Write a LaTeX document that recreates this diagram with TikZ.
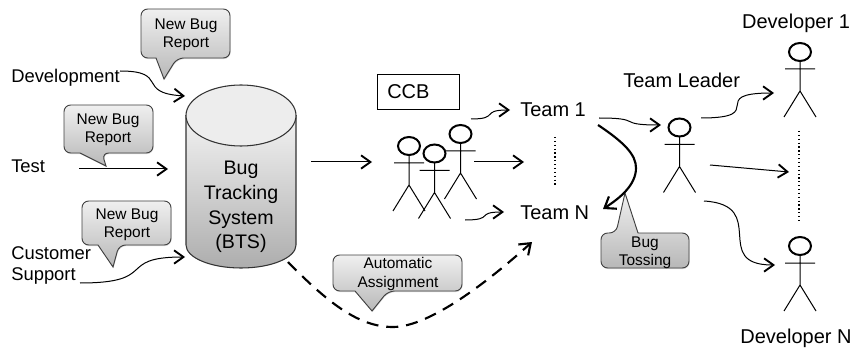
\documentclass[tikz,border=0pt]{standalone}
\usepackage{fontspec}
\setmainfont{Liberation Sans}
\usetikzlibrary{arrows.meta,shadows}
\tikzset{
	flow/.style={->,line width=0.75pt,>={Straight Barb[length=7pt,width=10pt,line width=1.4pt]}},
	bold flow/.style={flow,line width=1.6pt,>={Straight Barb[length=7.5pt,width=11pt,line width=1.6pt]}},
	note/.style={draw=black!75,line width=0.7pt,rounded corners=5pt,top color=black!6,bottom color=black!28,drop shadow={shadow xshift=0.4pt,shadow yshift=-0.8pt,opacity=0.3}},
	note text/.style={inner sep=0pt,align=center,font=\fontsize{11.6}{13.5}\selectfont},
	tag/.style={inner sep=0pt,anchor=west,align=left,font=\fontsize{13.8}{16}\selectfont},
	big tag/.style={inner sep=0pt,anchor=west,font=\fontsize{15}{17}\selectfont},
	pics/stickman/.style={code={
		\draw[line width=1.5pt] (0,0) ellipse (11 and 9);
		\draw[line width=0.75pt] (0,9) -- (0,39) (-15,17) -- (15,17) (-16,65) -- (0,39) -- (16,65);
	}}
}
\begin{document}
\begin{tikzpicture}[x=0.75pt,y=-0.75pt]
	\useasboundingbox (0,0) rectangle (853,349);
	% the database
	\shade[draw=black!80,line width=0.8pt,top color=black!5,bottom color=black!32] (186,115.5) -- (186,245) arc[start angle=180,end angle=0,x radius=55,y radius=23] -- (296,115.5) -- cycle;
	\draw[draw=black!80,line width=0.8pt,fill=black!7] (241,115.5) ellipse (55 and 30.5);
	\node[inner sep=0pt,align=center,font=\fontsize{14.7}{18.6}\selectfont] (BTS) at (241,207) {Bug\\Tracking\\System\\(BTS)};
	% the callouts
	\path[note] (141,34) -- (141,9) -- (230,9) -- (230,58) -- (177,58) [sharp corners] -- (164,79) -- (156,58) [rounded corners=5pt] -- (141,58) -- cycle;
	\path[note] (64,130) -- (64,105) -- (153,105) -- (153,153) -- (102,153) [sharp corners] -- (106,166) -- (80,153) [rounded corners=5pt] -- (64,153) -- cycle;
	\path[note] (82,223) -- (82,201) -- (171,201) -- (171,245) -- (119,245) [sharp corners] -- (113,267) -- (98,245) [rounded corners=5pt] -- (82,245) -- cycle;
	\path[note] (333,273) -- (333,255) -- (462,255) -- (462,291) -- (388,291) [sharp corners] -- (372,311) -- (355,291) [rounded corners=5pt] -- (333,291) -- cycle;
	\path[note] (601,250) -- (601,233) -- (616,233) [sharp corners] -- (625,193) -- (638,233) [rounded corners=5pt] -- (689,233) -- (689,268) -- (601,268) -- cycle;
	\node[note text] (NoteDev) at (186,35) {New Bug\\Report};
	\node[note text] (NoteTest) at (108,130) {New Bug\\Report};
	\node[note text] (NoteCust) at (127,224.5) {New Bug\\Report};
	\node[note text] (NoteAuto) at (398,274) {Automatic\\Assignment};
	\node[note text] (NoteToss) at (645,252.5) {Bug\\Tossing};
	% the labels
	\node[tag] (Dev) at (11,78) {Development};
	\node[tag] (Test) at (11,166) {Test};
	\node[tag] (Cust) at (11,265.5) {Customer\\Support};
	\node[draw,line width=0.6pt,minimum width=61.5pt,minimum height=26.25pt,inner sep=0pt] (CCBbox) at (418,91.5) {};
	\node[inner sep=0pt,anchor=west,font=\fontsize{15}{17}\selectfont] (CCB) at (387,92) {CCB};
	\node[big tag] (TeamA) at (520,110) {Team 1};
	\node[big tag] (TeamN) at (520,213) {Team N};
	\node[big tag] (Leader) at (623,80) {Team Leader};
	\node[inner sep=0pt,font=\fontsize{15}{17}\selectfont] (DevA) at (796,23) {Developer 1};
	\node[inner sep=0pt,font=\fontsize{15}{17}\selectfont] (DevN) at (796,338) {Developer N};
	% the people
	\pic at (409,146) {stickman};
	\pic at (434.5,153.5) {stickman};
	\pic at (460.5,134) {stickman};
	\pic at (679.5,127.5) {stickman};
	\pic at (800,52) {stickman};
	\pic at (800,246) {stickman};
	% ends of the connectors
	\coordinate (a1) at (120,71);
	\coordinate (a2) at (185,96);
	\coordinate (b1) at (79,169);
	\coordinate (b2) at (168,169);
	\coordinate (c1) at (80,283);
	\coordinate (c2) at (185,257);
	\coordinate (d1) at (311,162);
	\coordinate (d2) at (372,162);
	\coordinate (e1) at (474,162);
	\coordinate (e2) at (524,162);
	\coordinate (f1) at (471,119);
	\coordinate (f2) at (510,110);
	\coordinate (g1) at (465,220);
	\coordinate (g2) at (504,212);
	\coordinate (h1) at (288,262);
	\coordinate (h2) at (393,327);
	\coordinate (h3) at (532,242);
	\coordinate (i1) at (598,125);
	\coordinate (i2) at (636,168);
	\coordinate (i3) at (603,209);
	\coordinate (j1) at (599,118);
	\coordinate (j2) at (661,125);
	\coordinate (k1) at (701,118);
	\coordinate (k2) at (774,93);
	\coordinate (l1) at (710,165);
	\coordinate (l2) at (789,172);
	\coordinate (m1) at (704,201);
	\coordinate (m2) at (775,265);
	% the connectors
	\draw[flow] (a1) .. controls (170,71) and (135,93) .. (a2);
	\draw[flow] (b1) -- (b2);
	\draw[flow] (c1) .. controls (160,283) and (115,257) .. (c2);
	\draw[flow] (d1) -- (d2);
	\draw[flow] (e1) -- (e2);
	\draw[flow] (f1) .. controls (500,119) and (480,110) .. (f2);
	\draw[flow] (g1) .. controls (495,220) and (475,212) .. (g2);
	\draw[bold flow,dash pattern=on 9pt off 6pt] (h1) .. controls (330,305) and (360,327) .. (h2) .. controls (430,327) and (490,280) .. (h3);
	\draw[bold flow] (i1) .. controls (625,143) and (636,155) .. (i2) .. controls (636,185) and (620,198) .. (i3);
	\draw[flow] (j1) .. controls (645,118) and (615,125) .. (j2);
	\draw[flow] (k1) .. controls (770,118) and (705,93) .. (k2);
	\draw[flow] (l1) -- (l2);
	\draw[flow] (m1) .. controls (770,205) and (710,265) .. (m2);
	\draw[dotted,line width=0.9pt] (555,137) -- (555,187);
	\draw[dotted,line width=0.9pt] (799,131) -- (799,223);
\end{tikzpicture}
\end{document}
